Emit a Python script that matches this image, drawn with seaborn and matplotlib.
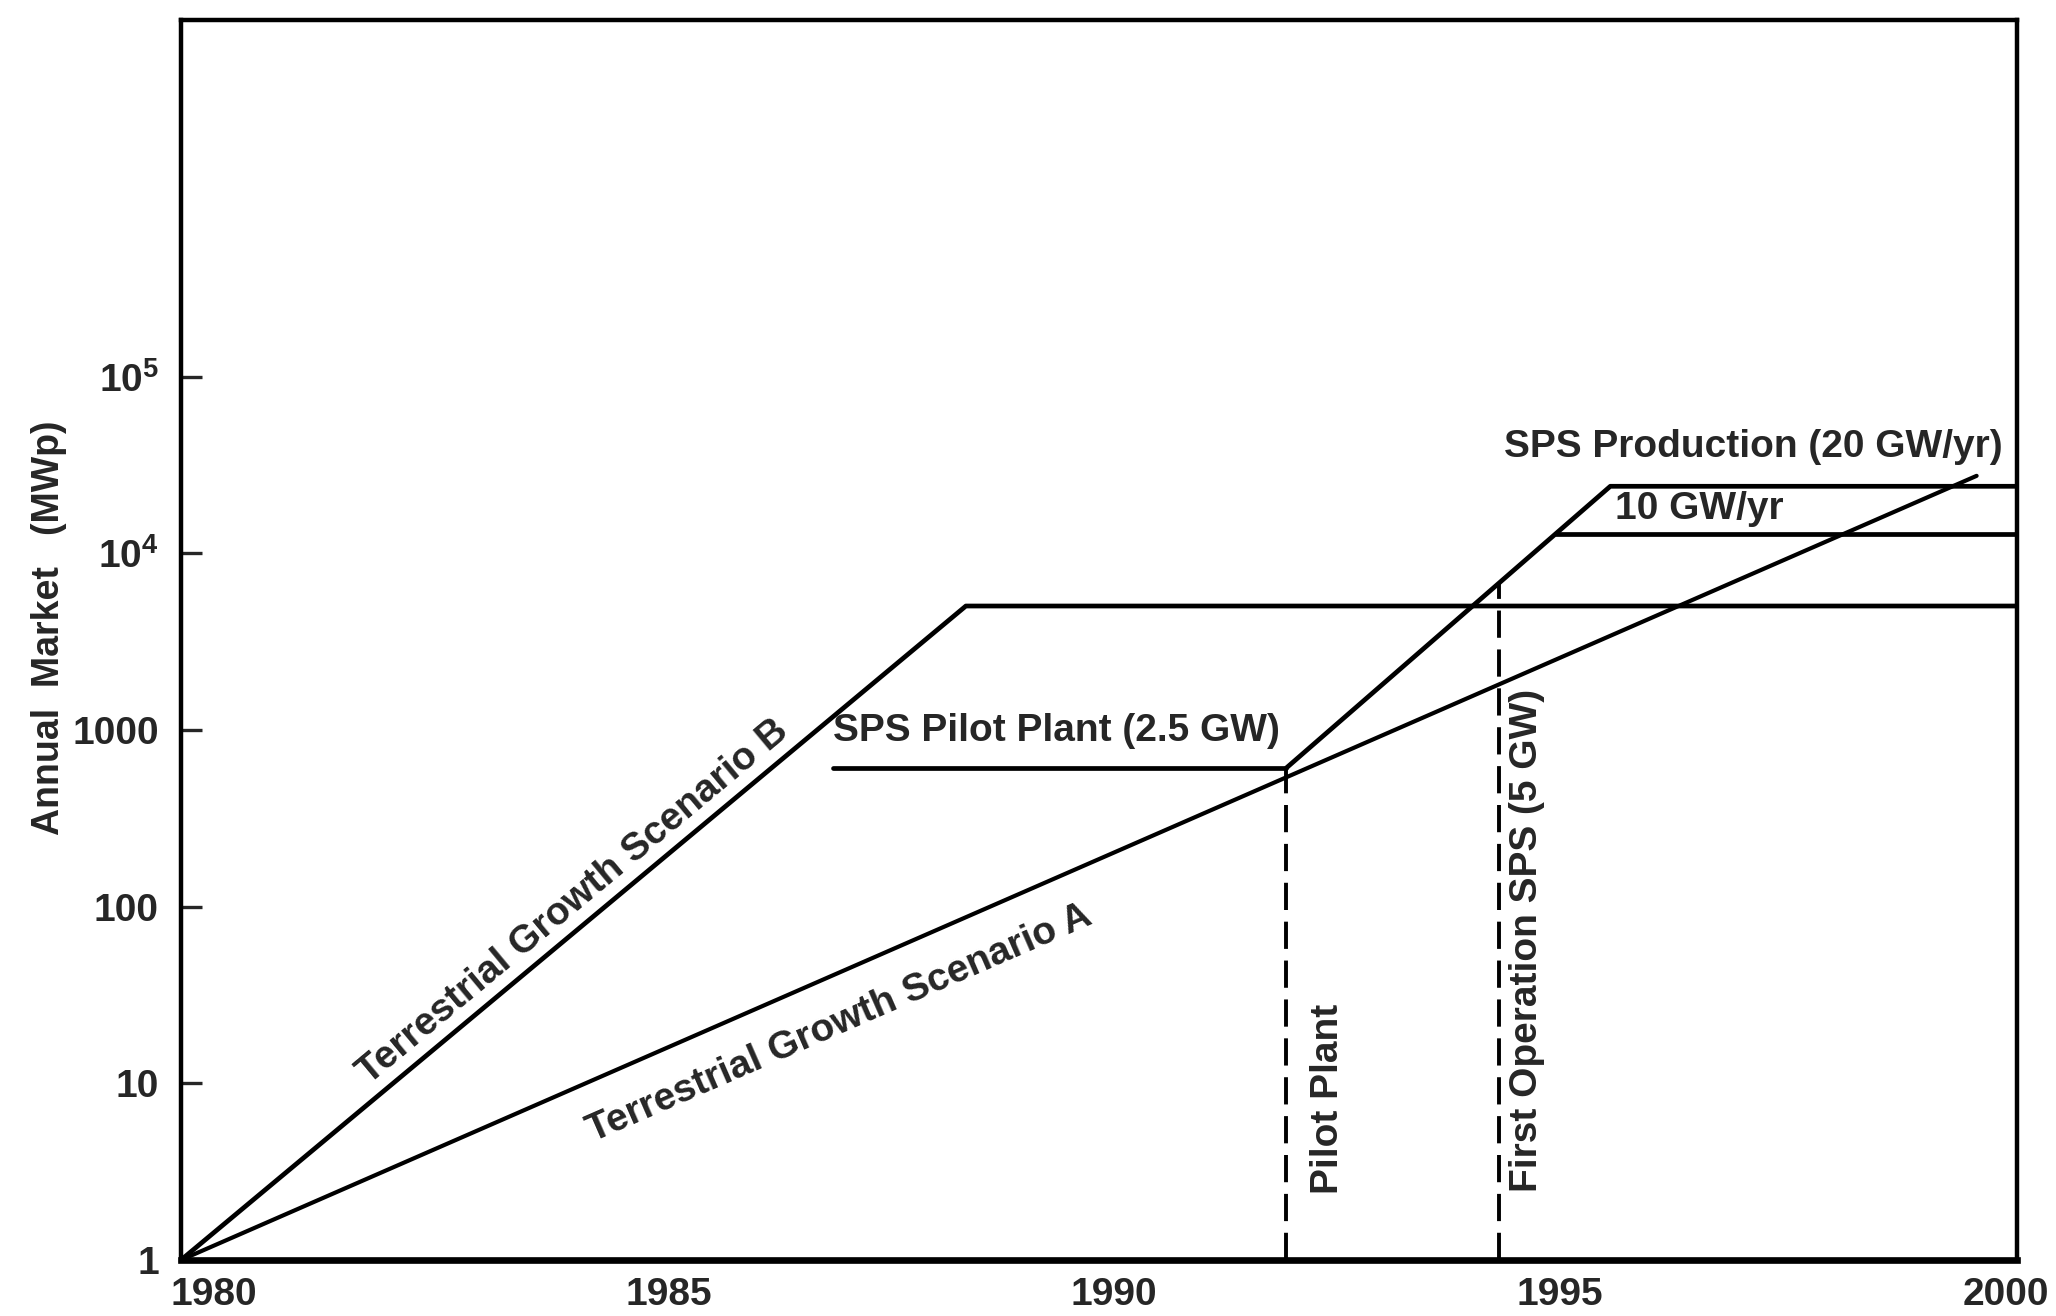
import numpy as np
import pandas as pd
import matplotlib
matplotlib.use("Agg")
import matplotlib.pyplot as plt
import matplotlib.transforms as mtransforms
from matplotlib.ticker import NullLocator
import seaborn as sns

# ---------------- data ----------------
years_A = [1980.0, 1999.56]
market_A = [1.0, 2.75e4]

years_B = [1980.0, 1988.55, 2000.0]
market_B = [1.0, 5040.0, 5040.0]

years_pilot = [1987.1, 1992.04]
market_pilot = [610.0, 610.0]

years_prod20 = [1992.04, 1995.57, 2000.0]
market_prod20 = [610.0, 2.4e4, 2.4e4]

years_prod10 = [1994.98, 2000.0]
market_prod10 = [1.29e4, 1.29e4]

pilot_marker_years = [1992.04, 1992.04]
pilot_marker_market = [1.0, 610.0]

firstop_marker_years = [1994.36, 1994.36]
firstop_marker_market = [1.0, 6860.0]

x_ticks = [1980, 1985, 1990, 1995, 2000]
x_ticklabels = ["1980", "1985", "1990", "1995", "2000"]
y_ticks = [1, 10, 100, 1000, 1e4, 1e5]
y_ticklabels = ["1", "10", "100", "1000", r"$\mathbf{10^{4}}$", r"$\mathbf{10^{5}}$"]

label_B = "Terrestrial Growth Scenario B"
label_A = "Terrestrial Growth Scenario A"
label_pilot = "SPS Pilot Plant (2.5 GW)"
label_pilot_v = "Pilot Plant"
label_firstop = "First Operation SPS (5 GW)"
label_prod20 = "SPS Production (20 GW/yr)"
label_prod10 = "10 GW/yr"
y_title = "Annual  Market   (MWp)"

# ---------------- style ----------------
sns.set_style("ticks")
plt.rcParams["font.family"] = ["Liberation Sans", "DejaVu Sans"]
plt.rcParams["font.weight"] = "bold"
plt.rcParams["mathtext.fontset"] = "custom"
plt.rcParams["mathtext.rm"] = "Liberation Sans"
plt.rcParams["mathtext.bf"] = "Liberation Sans:bold"

FS = 28
fig = plt.figure(figsize=(20.56, 13.16), dpi=100)
ax = fig.add_axes([181 / 2056, 56 / 1316, (2017 - 181) / 2056, (1296 - 56) / 1316])

solid_kw = dict(color="black", linewidth=3.4, estimator=None, sort=False, legend=False)
diag_kw = dict(color="black", linewidth=3.0, estimator=None, sort=False, legend=False)
dash_kw = dict(color="black", linewidth=2.8, estimator=None, sort=False, legend=False)
dash_style = (0, (7, 3))

sns.lineplot(x=years_A, y=market_A, ax=ax, **diag_kw)
sns.lineplot(x=years_B, y=market_B, ax=ax, **solid_kw)
sns.lineplot(x=years_pilot, y=market_pilot, ax=ax, **solid_kw)
sns.lineplot(x=years_prod20, y=market_prod20, ax=ax, **solid_kw)
sns.lineplot(x=years_prod10, y=market_prod10, ax=ax, **solid_kw)
sns.lineplot(x=pilot_marker_years, y=pilot_marker_market, ax=ax, linestyle=dash_style, **dash_kw)
sns.lineplot(x=firstop_marker_years, y=firstop_marker_market, ax=ax, linestyle=dash_style, **dash_kw)

ax.set_yscale("log")
ax.set_xlim(1980, 2000)
ax.set_ylim(1, 10 ** 7.02)

ax.set_yticks(y_ticks)
ax.set_yticklabels(y_ticklabels, fontsize=FS, fontweight="bold")
ax.yaxis.set_minor_locator(NullLocator())
ax.tick_params(axis="y", direction="in", length=15, width=2.4, pad=16, left=True, right=False)

ax.set_xticks(x_ticks)
ax.set_xticklabels(x_ticklabels, fontsize=FS, fontweight="bold")
ax.xaxis.set_minor_locator(NullLocator())
ax.tick_params(axis="x", length=0, pad=12)
x_offsets_px = [33, 29, 15, 2, -11]
for lab, dx in zip(ax.get_xticklabels(), x_offsets_px):
    lab.set_transform(lab.get_transform() + mtransforms.ScaledTranslation(dx / 100, 0, fig.dpi_scale_trans))

for side in ["left", "right", "top"]:
    ax.spines[side].set_linewidth(3.2)
    ax.spines[side].set_color("black")
ax.spines["bottom"].set_linewidth(4.8)
ax.spines["bottom"].set_color("black")

ax.set_xlabel("")
ax.set_ylabel(y_title, fontsize=27, fontweight="bold")
ax.yaxis.set_label_coords(-0.062, 0.51)


def screen_angle(x0, y0, x1, y1):
    p0 = ax.transData.transform((x0, y0))
    p1 = ax.transData.transform((x1, y1))
    return np.degrees(np.arctan2(p1[1] - p0[1], p1[0] - p0[0]))


angB = screen_angle(years_B[0], market_B[0], years_B[1], market_B[1])
angA = screen_angle(years_A[0], market_A[0], years_A[1], market_A[1])

ax.text(1984.27, 10 ** 2.03, label_B, rotation=angB, rotation_mode="anchor",
        ha="center", va="center", fontsize=FS, fontweight="bold")
ax.text(1987.17, 10 ** 1.34, label_A, rotation=angA, rotation_mode="anchor",
        ha="center", va="center", fontsize=FS, fontweight="bold")
ax.text(1987.1, 10 ** 2.995, label_pilot, ha="left", va="center", fontsize=FS, fontweight="bold")
ax.text(1992.49, 10 ** 0.91, label_pilot_v, rotation=90, ha="center", va="center",
        fontsize=FS, fontweight="bold")
ax.text(1994.66, 10 ** 1.81, label_firstop, rotation=90, ha="center", va="center",
        fontsize=FS, fontweight="bold")
ax.text(1999.84, 10 ** 4.60, label_prod20, ha="right", va="center", fontsize=FS, fontweight="bold")
ax.text(1995.62, 10 ** 4.25, label_prod10, ha="left", va="center", fontsize=FS, fontweight="bold")

fig.savefig("out.png", dpi=100, facecolor="white")
